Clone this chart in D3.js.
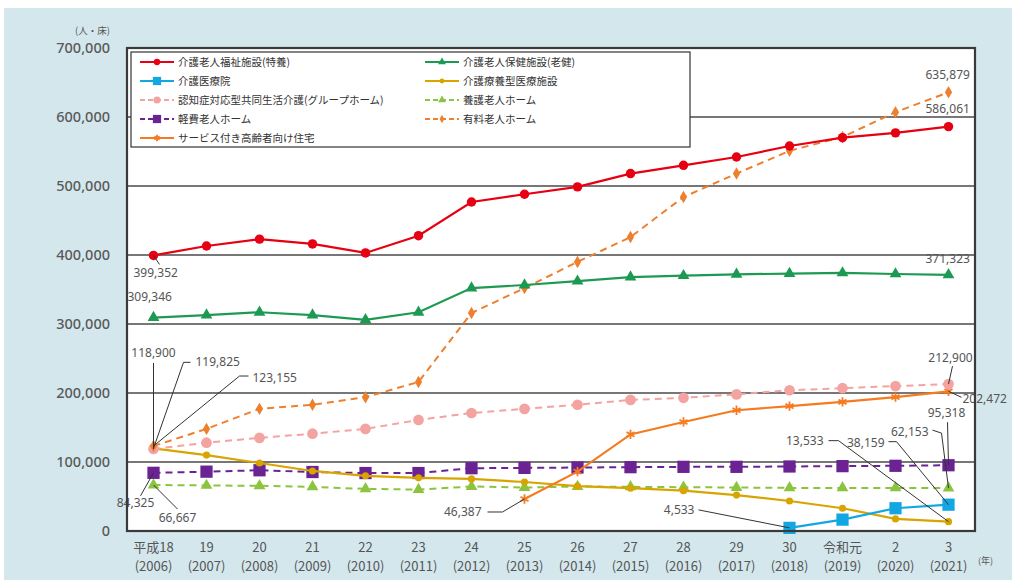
<!DOCTYPE html>
<html><head><meta charset="utf-8">
<script src="https://cdn.jsdelivr.net/npm/d3@7"></script>
<style>
body{margin:0;background:#fff;}
svg{display:block;font-family:"Noto Sans CJK JP","Noto Sans",sans-serif;}
</style></head>
<body><svg id="c" width="1012" height="580"></svg>
<script>
// ---- data ----
const eraLabels = ["平成18","19","20","21","22","23","24","25","26","27","28","29","30","令和元","2","3"];
const yearLabels = ["(2006)","(2007)","(2008)","(2009)","(2010)","(2011)","(2012)","(2013)","(2014)","(2015)","(2016)","(2017)","(2018)","(2019)","(2020)","(2021)"];
const yTicks = [0,100000,200000,300000,400000,500000,600000,700000];

const tokuyou   = [399352,413000,423000,416000,403000,428000,476800,488000,498700,518000,530000,542000,558000,570000,577000,586061];
const rouken    = [309346,313000,317000,313000,306000,317000,352000,356500,362000,368000,370000,372000,373000,374000,372500,371323];
const iryouin   = [null,null,null,null,null,null,null,null,null,null,null,null,4533,16500,33000,38159];
const ryouyou   = [119825,110000,98500,87000,80000,77000,75500,71000,65000,62000,58500,52000,43500,33000,17500,13533];
const groupHome = [118900,128000,135000,141000,148000,161000,171000,177000,183000,190000,193000,198000,204000,207000,210000,212900];
const yougo     = [66667,66000,65500,64000,61000,60000,64500,63000,64500,64000,63500,63000,62500,62500,62500,62153];
const keihi     = [84325,86000,88000,85500,84000,84000,91000,91500,92000,92500,93000,93000,93500,94000,94500,95318];
const yuuryou   = [123155,148000,177000,183000,194000,216000,316000,352000,390000,426000,484000,518000,551000,571000,607000,635879];
const sakouju   = [null,null,null,null,null,null,null,46387,86000,140000,158000,175000,181000,187000,194000,202472];

const seriesNames = ["介護老人福祉施設(特養)","介護老人保健施設(老健)","介護医療院","介護療養型医療施設","認知症対応型共同生活介護(グループホーム)","養護老人ホーム","軽費老人ホーム","有料老人ホーム","サービス付き高齢者向け住宅"];

// ---- styles ----
const series = [
  {name:seriesNames[0], values:tokuyou,   color:"#e60012", dash:null,  sym:"circle", size:70, lw:2.2, col:0,row:0},
  {name:seriesNames[1], values:rouken,    color:"#1d9a52", dash:null,  sym:"triangle", size:60, lw:2.2, col:1,row:0},
  {name:seriesNames[2], values:iryouin,   color:"#12a7e3", dash:null,  sym:"square", size:150, lw:2.2, col:0,row:1},
  {name:seriesNames[3], values:ryouyou,   color:"#d8a400", dash:null,  sym:"circle", size:40, lw:2.2, col:1,row:1},
  {name:seriesNames[4], values:groupHome, color:"#f3a3a0", dash:"7,5", sym:"circle", size:90, lw:2, col:0,row:2},
  {name:seriesNames[5], values:yougo,     color:"#8cc43f", dash:"7,5", sym:"triangle", size:60, lw:2, col:1,row:2},
  {name:seriesNames[6], values:keihi,     color:"#6b2393", dash:"7,5", sym:"square", size:150, lw:2, col:0,row:3},
  {name:seriesNames[7], values:yuuryou,   color:"#ee7f2d", dash:"7,5", sym:"diamond", size:45, lw:2, col:1,row:3},
  {name:seriesNames[8], values:sakouju,   color:"#f47b20", dash:null,  sym:"asterisk", size:60, lw:2.2, col:0,row:4}
];
const symMap = {circle:d3.symbolCircle, triangle:d3.symbolTriangle, square:d3.symbolSquare, diamond:d3.symbolDiamond, asterisk:d3.symbolAsterisk};

const svg = d3.select("#c");
svg.append("rect").attr("x",4).attr("y",8).attr("width",1008).attr("height",572).attr("fill","#d4e7ed");

const L=127,R=975,T=48,B=531;
const x = d3.scaleBand().domain(d3.range(eraLabels.length)).range([L,R]).padding(0);
const cx = i => x(i)+x.bandwidth()/2;
const y = d3.scaleLinear().domain([0,700000]).range([B,T]);

svg.append("rect").attr("x",L).attr("y",T).attr("width",R-L).attr("height",B-T).attr("fill","#fff");

// gridlines
svg.append("g").selectAll("line").data(yTicks.filter(v=>v>0&&v<700000)).join("line")
  .attr("x1",L).attr("x2",R).attr("y1",d=>y(d)).attr("y2",d=>y(d))
  .attr("stroke","#4a4a4a").attr("stroke-width",1.6);

// y axis labels
const yAxis = d3.axisLeft(y).tickValues(yTicks).tickFormat(d3.format(",")).tickSize(0).tickPadding(17);
const ya = svg.append("g").attr("transform",`translate(${L},0)`).call(yAxis);
ya.select(".domain").remove();
ya.selectAll("text").attr("font-size",14.5).attr("fill","#5a5a5a").attr("font-family","'Noto Sans',sans-serif").attr("font-weight",500);
svg.append("text").attr("x",110).attr("y",34).attr("text-anchor","end").attr("font-size",9.5).attr("fill","#555").text("(人・床)");

// x axis labels
const xg = svg.append("g");
xg.selectAll("text.era").data(eraLabels).join("text").attr("class","era")
  .attr("x",(d,i)=>cx(i)).attr("y",552).attr("text-anchor","middle").attr("font-size",13).attr("fill","#555").text(d=>d);
xg.selectAll("text.yr").data(yearLabels).join("text").attr("class","yr")
  .attr("x",(d,i)=>cx(i)).attr("y",571).attr("text-anchor","middle").attr("font-size",13).attr("fill","#555").text(d=>d);
svg.append("text").attr("x",978).attr("y",564).attr("font-size",9).attr("fill","#555").text("(年)");

// lines
const line = d3.line().defined(d=>d!=null).x((d,i)=>cx(i)).y(d=>y(d));
function drawMarker(g, s, px, py, scale){
  const sym = d3.symbol().type(symMap[s.sym]).size(s.size*(scale||1));
  const p = g.append("path").attr("d",sym()).attr("transform",`translate(${px},${py})`);
  if(s.sym==="asterisk") p.attr("fill","none").attr("stroke",s.color).attr("stroke-width",1.8);
  else p.attr("fill",s.color);
}
const drawOrder=[5,6,3,2,8,4,7,1,0];
drawOrder.forEach(k=>{
  const s=series[k];
  const g=svg.append("g");
  g.append("path").datum(s.values).attr("d",line).attr("fill","none").attr("stroke",s.color)
    .attr("stroke-width",s.lw).attr("stroke-dasharray",s.dash);
  s.values.forEach((v,i)=>{ if(v!=null) drawMarker(g,s,cx(i),y(v)); });
});

// annotations: [seriesIndex, pointIndex, text, textX offset, baseline offset, anchor, leader path offsets]
const ann = [
  [0,0,"399,352",-20,22,"start",[[0,0],[6,9]]],
  [1,0,"309,346",-26,-17,"start",null],
  [4,0,"118,900",0,-92,"middle",[[0,0],[0,-86]]],
  [3,0,"119,825",42,-82,"start",[[0,0],[30,-86],[37,-86]]],
  [7,0,"123,155",99,-64,"start",[[0,0],[86,-70],[95,-70]]],
  [6,0,"84,325",-18,34,"middle",[[0,0],[-13,23]]],
  [5,0,"66,667",24,37,"middle",[[0,0],[24,24]]],
  [8,7,"46,387",-43,17,"end",[[0,0],[-22,13],[-37,13]]],
  [2,12,"4,533",-95,-14,"end",[[0,0],[-91,-18]]],
  [3,15,"13,533",-125,-77,"end",[[0,0],[-110,-81],[-120,-81]]],
  [2,15,"38,159",-64,-58,"end",[[0,0],[-52,-63],[-60,-63]]],
  [5,15,"62,153",-20,-52,"end",[[0,0],[-7,-55],[-16,-58]]],
  [6,15,"95,318",-2,-48,"middle",[[0,0],[-1,-43]]],
  [4,15,"212,900",2,-22,"middle",[[0,0],[4,-18]]],
  [8,15,"202,472",14,12,"start",[[0,0],[13,6]]],
  [0,15,"586,061",-23,-14,"start",null],
  [7,15,"635,879",-23,-13,"start",null],
  [1,15,"371,323",-23,-12,"start",null]
];
const ag=svg.append("g");
ann.forEach(a=>{
  const s=series[a[0]], v=s.values[a[1]];
  const px=cx(a[1]), py=y(v);
  if(a[6]) ag.append("path").attr("d",d3.line()(a[6].map(p=>[px+p[0],py+p[1]])))
    .attr("fill","none").attr("stroke","#333").attr("stroke-width",1);
  ag.append("text").attr("x",px+a[3]).attr("y",py+a[4]).attr("text-anchor",a[5])
    .attr("font-size",12).attr("fill","#555").attr("font-family","'Noto Sans',sans-serif").text(a[2]);
});

// frame
svg.append("rect").attr("x",L).attr("y",T).attr("width",R-L).attr("height",B-T)
  .attr("fill","none").attr("stroke","#3a3a3a").attr("stroke-width",2.2);

// legend
const lg=svg.append("g");
lg.append("rect").attr("x",131).attr("y",52).attr("width",559).attr("height",95)
  .attr("fill","#fff").attr("stroke","#333").attr("stroke-width",1.2);
series.forEach(s=>{
  const x0 = s.col===0?140:425, yy = 62+s.row*19;
  lg.append("line").attr("x1",x0).attr("x2",x0+34).attr("y1",yy).attr("y2",yy)
    .attr("stroke",s.color).attr("stroke-width",2).attr("stroke-dasharray",s.dash?"5,3":null);
  drawMarker(lg,s,x0+17,yy,0.45);
  lg.append("text").attr("x",x0+38).attr("y",yy+4).attr("font-size",10.5).attr("fill","#333").text(s.name);
});
</script></body></html>
